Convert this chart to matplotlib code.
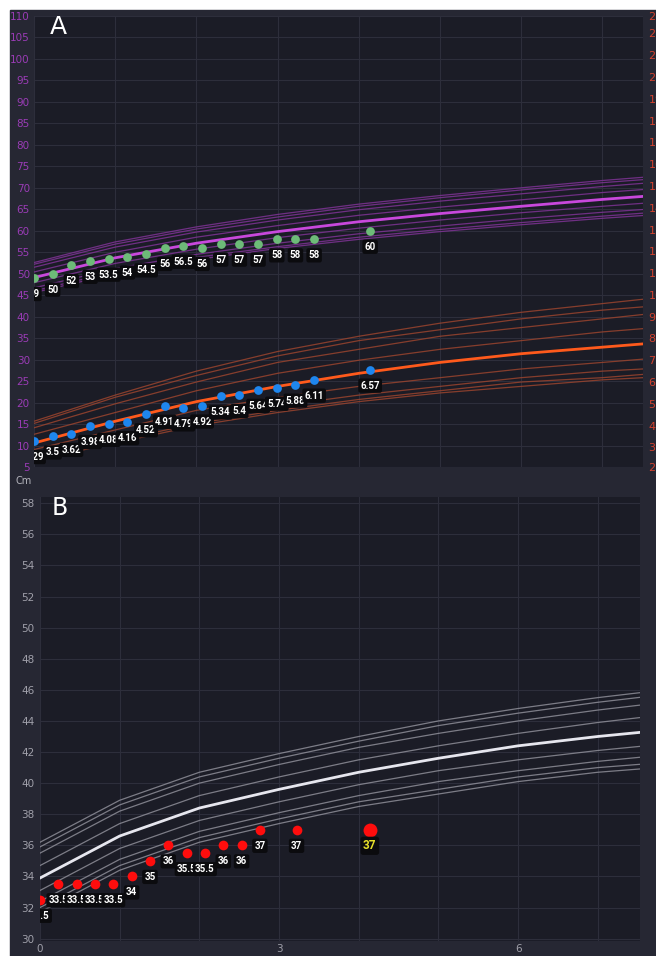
import matplotlib.pyplot as plt
from matplotlib.patches import Rectangle

# reference curves, one value per month (0..8)
months = [0, 1, 2, 3, 4, 5, 6, 7, 8]

len_p97 = [52.6, 57.4, 60.9, 63.8, 66.2, 68.2, 70.0, 71.7, 73.2]
len_p95 = [52.2, 56.9, 60.4, 63.2, 65.7, 67.7, 69.5, 71.2, 72.6]
len_p90 = [51.5, 56.2, 59.7, 62.5, 64.9, 66.9, 68.6, 70.3, 71.8]
len_p75 = [50.4, 55.0, 58.5, 61.2, 63.6, 65.5, 67.2, 68.9, 70.3]
len_p50 = [49.1, 53.7, 57.1, 59.8, 62.1, 64.0, 65.7, 67.3, 68.7]
len_p25 = [47.9, 52.4, 55.7, 58.4, 60.6, 62.5, 64.2, 65.7, 67.1]
len_p10 = [46.7, 51.2, 54.5, 57.1, 59.3, 61.1, 62.8, 64.3, 65.6]
len_p05 = [46.0, 50.5, 53.8, 56.3, 58.5, 60.3, 61.9, 63.4, 64.8]
len_p03 = [45.6, 50.0, 53.3, 55.9, 58.0, 59.8, 61.4, 62.9, 64.2]

wt_p97 = [4.2, 5.4, 6.5, 7.4, 8.1, 8.7, 9.2, 9.6, 10.0]
wt_p95 = [4.1, 5.3, 6.3, 7.2, 7.9, 8.4, 8.9, 9.3, 9.6]
wt_p90 = [3.9, 5.0, 6.0, 6.9, 7.5, 8.1, 8.5, 8.9, 9.3]
wt_p75 = [3.6, 4.6, 5.6, 6.4, 7.0, 7.5, 7.9, 8.3, 8.6]
wt_p50 = [3.2, 4.2, 5.1, 5.8, 6.4, 6.9, 7.3, 7.6, 7.9]
wt_p25 = [2.9, 3.8, 4.7, 5.3, 5.8, 6.2, 6.6, 6.9, 7.2]
wt_p10 = [2.7, 3.5, 4.3, 4.9, 5.4, 5.8, 6.2, 6.5, 6.7]
wt_p05 = [2.5, 3.3, 4.1, 4.7, 5.2, 5.6, 6.0, 6.2, 6.5]
wt_p03 = [2.4, 3.2, 4.0, 4.6, 5.1, 5.5, 5.8, 6.1, 6.3]

hc_p97 = [36.2, 38.9, 40.7, 41.9, 43.0, 44.0, 44.8, 45.5, 46.1]
hc_p95 = [35.9, 38.6, 40.4, 41.6, 42.7, 43.7, 44.5, 45.2, 45.8]
hc_p90 = [35.5, 38.2, 40.0, 41.2, 42.3, 43.2, 44.0, 44.7, 45.3]
hc_p75 = [34.7, 37.4, 39.2, 40.4, 41.5, 42.4, 43.2, 43.9, 44.5]
hc_p50 = [33.9, 36.6, 38.4, 39.6, 40.7, 41.6, 42.4, 43.0, 43.5]
hc_p25 = [33.1, 35.8, 37.6, 38.8, 39.9, 40.8, 41.5, 42.1, 42.6]
hc_p10 = [32.4, 35.1, 36.9, 38.1, 39.2, 40.1, 40.8, 41.4, 41.9]
hc_p05 = [32.0, 34.7, 36.5, 37.7, 38.8, 39.6, 40.4, 41.0, 41.4]
hc_p03 = [31.7, 34.4, 36.2, 37.4, 38.5, 39.3, 40.1, 40.7, 41.1]

# measurements (age in weeks)
len_weeks = [0, 1, 2, 3, 4, 5, 6, 7, 8, 9, 10, 11, 12, 13, 14, 15, 18]
len_values = [49, 50, 52, 53, 53.5, 54, 54.5, 56, 56.5, 56, 57, 57, 57, 58, 58, 58, 60]
wt_weeks = [0, 1, 2, 3, 4, 5, 6, 7, 8, 9, 10, 11, 12, 13, 14, 15, 18]
wt_values = [3.29, 3.5, 3.62, 3.98, 4.08, 4.16, 4.52, 4.91, 4.79, 4.92,
             5.34, 5.4, 5.64, 5.74, 5.88, 6.11, 6.57]
hc_weeks = [0, 1, 2, 3, 4, 5, 6, 7, 8, 9, 10, 11, 12, 14, 18]
hc_values = [32.5, 33.5, 33.5, 33.5, 33.5, 34, 35, 36, 35.5, 35.5, 36, 36, 37, 37, 37]


def to_months(weeks):
    return [w * 7 / 30.4375 for w in weeks]


BG_OUT = "#262733"
BG_PLOT = "#1b1c26"
GRID = "#2d2e3b"
LABEL_FONT = ["Roboto", "DejaVu Sans"]


def curves(ax, lines, thin, thick):
    for i, vals in enumerate(lines):
        if i == len(lines) // 2:
            ax.plot(months, vals, color=thick, lw=2.0, zorder=3)
        else:
            ax.plot(months, vals, color=thin, lw=0.9, alpha=0.85, zorder=2)


def points(ax, x, y, color, size=6.3, last_style=None):
    ax.plot(x, y, "o", color=color, ms=size, mec="none", zorder=5)
    for i, (xi, yi) in enumerate(zip(x, y)):
        txt_color, fs = "white", 7
        if last_style and i == len(x) - 1:
            txt_color, fs = last_style
        ax.annotate(f"{yi:g}", (xi, yi), xytext=(0, -16), textcoords="offset pixels",
                    ha="center", va="center", fontsize=fs, color=txt_color,
                    fontweight="bold", family=LABEL_FONT, zorder=6,
                    annotation_clip=False, clip_on=True,
                    bbox=dict(boxstyle="round,pad=0.22", fc="#0b0b0e", ec="none"))


def style(ax):
    ax.set_facecolor(BG_PLOT)
    for s in ax.spines.values():
        s.set_visible(False)
    ax.tick_params(length=0)
    ax.grid(True, color=GRID, lw=0.8)
    ax.set_axisbelow(True)


fig = plt.figure(figsize=(6.56, 9.56), dpi=100, facecolor="white")
fig.patches.append(Rectangle((10 / 656, 0), 1, 946 / 956, transform=fig.transFigure,
                             color=BG_OUT, zorder=-10))

# --- Panel A: length (left) and weight (right) ---
axA = fig.add_axes([34 / 656, 489 / 956, 609 / 656, 451 / 956])
style(axA)
axA.set_xlim(0, 7.5)
axA.set_ylim(5, 110)
axA.set_yticks(range(5, 111, 5))
axA.set_xticks(range(0, 8))
axA.set_xticklabels([])
axA.tick_params(axis="y", colors="#9a3cb6", labelsize=7.5, pad=3)
curves(axA, [len_p97, len_p95, len_p90, len_p75, len_p50, len_p25, len_p10, len_p05, len_p03],
       "#7e3394", "#c848dc")
points(axA, to_months(len_weeks), len_values, "#6dbb78")

axW = axA.twinx()
for s in axW.spines.values():
    s.set_visible(False)
axW.set_ylim(2.1, 22.8)
axW.set_yticks([2.1] + list(range(3, 23)) + [22.8])
axW.set_yticklabels(["2"] + [str(v) for v in range(3, 23)] + ["23"])
axW.tick_params(length=0, colors="#d2422f", labelsize=8, pad=4)
curves(axW, [wt_p97, wt_p95, wt_p90, wt_p75, wt_p50, wt_p25, wt_p10, wt_p05, wt_p03],
       "#9a442e", "#ff5a1c")
points(axW, to_months(wt_weeks), wt_values, "#1e86ee")

fig.text(50 / 656, 1 - 27 / 956, "A", fontsize=18, color="white", va="center")
fig.text(15 / 656, 1 - 481 / 956, "Cm", fontsize=7, color="#b4b4bc", va="center")

# --- Panel B: head circumference ---
axB = fig.add_axes([40 / 656, 15 / 956, 600 / 656, 444 / 956])
style(axB)
axB.set_xlim(0, 7.53)
axB.set_ylim(29.85, 58.4)
axB.set_yticks(range(30, 59, 2))
axB.set_xticks(range(0, 8))
axB.set_xticklabels(["0", "", "", "3", "", "", "6", ""])
axB.tick_params(colors="#a0a0aa", labelsize=7.5, pad=4)
axB.tick_params(axis="x", pad=2)
curves(axB, [hc_p97, hc_p95, hc_p90, hc_p75, hc_p50, hc_p25, hc_p10, hc_p05, hc_p03],
       "#8e8e98", "#e6e6ee")
hc_x = to_months(hc_weeks)
points(axB, hc_x[:-1], hc_values[:-1], "#ff0d0d", size=7)
points(axB, hc_x[-1:], hc_values[-1:], "#ff0d0d", size=10, last_style=("#e6df2a", 8.5))

fig.text(52 / 656, 1 - 508 / 956, "B", fontsize=17, color="white", va="center")

fig.savefig("out.png", dpi=100, facecolor=fig.get_facecolor())
